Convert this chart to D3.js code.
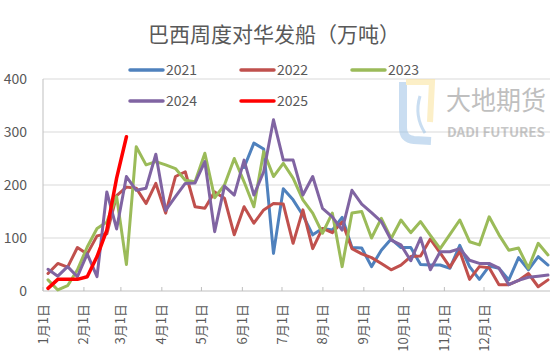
<!DOCTYPE html>
<html>
<head>
<meta charset="utf-8">
<script src="https://cdn.jsdelivr.net/npm/d3@7"></script>
<style>
  body { margin: 0; background: #fff; }
  svg { display: block; }
  text { font-family: "Noto Sans CJK SC", "Noto Sans", sans-serif; fill: #595959; }
</style>
</head>
<body>
<script>
// weekly shipments, 52 weeks per year (万吨)
const years = ["2021", "2022", "2023", "2024", "2025"];
const colors = ["#4F81BD", "#C0504D", "#9BBB59", "#8064A2", "#FF0000"];

const s2021 = [null, null, null, null, null, null, null, null, null, null,
  null, null, null, null, null, null, null, null, null, null,
  233, 279, 268, 71, 193, 172, 143, 106, 118, 115,
  139, 82, 81, 46, 77, 98, 82, 82, 50, 49,
  49, 43, 86, 46, 22, 47, 43, 21, 63, 40, 65, 49];
const s2022 = [33, 52, 45, 82, 70, 104, 108, 180, 196, 194,
  165, 203, 147, 216, 225, 159, 156, 187, 175, 106,
  159, 128, 153, 165, 164, 90, 153, 80, 118, 110,
  130, 80, 70, 63, 52, 40, 49, 65, 66, 98,
  72, 45, 75, 22, 46, 44, 12, 12, 20, 33, 8, 21];
const s2023 = [21, 2, 10, 40, 83, 118, 130, 178, 50, 272,
  238, 244, 238, 231, 209, 206, 260, 176, 200, 250,
  206, 159, 263, 216, 241, 213, 172, 147, 109, 147,
  46, 147, 150, 100, 137, 99, 134, 110, 131, 105,
  80, 107, 134, 93, 87, 140, 106, 77, 81, 43, 90, 68];
const s2024 = [41, 28, 46, 27, 70, 27, 187, 117, 216, 190,
  194, 258, 152, 178, 203, 204, 244, 112, 198, 181,
  247, 181, 225, 323, 247, 247, 181, 216, 156, 140,
  115, 190, 164, 148, 131, 96, 87, 57, 100, 40,
  74, 74, 80, 58, 52, 52, 43, 12, 20, 26, 28, 30];
const s2025 = [5, 22, 22, 22, 27, 65, 115, 213, 291];

const seriesList = [s2021, s2022, s2023, s2024, s2025];
const yTicks = [0, 100, 200, 300, 400];

const width = 550, height = 363;
const plotLeft = 43, plotBottom = 291, plotTop = 79;

const svg = d3.select("body").append("svg")
  .attr("width", width)
  .attr("height", height);

// scales
const xWeek = d3.scaleLinear().domain([0, 51]).range([48, 548]);
const xDate = d3.scaleTime()
  .domain([new Date(2021, 0, 1), new Date(2021, 11, 1)])
  .range([plotLeft, 484]);
const y = d3.scaleLinear().domain([0, 400]).range([plotBottom, plotTop]);

// title
svg.append("text")
  .attr("x", 274)
  .attr("y", 42)
  .attr("text-anchor", "middle")
  .style("font-size", "21px")
  .text("巴西周度对华发船（万吨）");

// gridlines
svg.append("g")
  .selectAll("line")
  .data(yTicks.slice(1))
  .enter()
  .append("line")
  .attr("x1", plotLeft)
  .attr("x2", width)
  .attr("y1", d => y(d))
  .attr("y2", d => y(d))
  .attr("stroke", "#d9d9d9")
  .attr("stroke-width", 1);

// y labels
svg.append("g")
  .selectAll("text")
  .data(yTicks)
  .enter()
  .append("text")
  .attr("x", 27)
  .attr("y", d => y(d))
  .attr("dy", "0.35em")
  .attr("text-anchor", "end")
  .style("font-size", "14px")
  .text(d => d);

// watermark
const wm = svg.append("g").attr("opacity", 0.55);
wm.append("path")
  .attr("d", "M403,82 L403,128 Q403,139 414,140 L431,141")
  .attr("fill", "none").attr("stroke", "#9dc3e6").attr("stroke-width", 8);
wm.append("path")
  .attr("d", "M420,96 Q414,116 425,133")
  .attr("fill", "none").attr("stroke", "#9dc3e6").attr("stroke-width", 3);
wm.append("path")
  .attr("d", "M406,82 L432,82 L430,122")
  .attr("fill", "none").attr("stroke", "#fbe29a").attr("stroke-width", 6);
wm.append("text")
  .attr("x", 446).attr("y", 110)
  .attr("textLength", 100)
  .attr("lengthAdjust", "spacingAndGlyphs")
  .style("font-size", "26px")
  .style("fill", "#8c8c8c")
  .text("大地期货");
wm.append("text")
  .attr("x", 447).attr("y", 137)
  .attr("textLength", 98)
  .attr("lengthAdjust", "spacingAndGlyphs")
  .style("font-size", "12.5px")
  .style("font-weight", "bold")
  .style("fill", "#9a9a9a")
  .text("DADI FUTURES");

// axes lines
svg.append("line")
  .attr("x1", plotLeft).attr("x2", width)
  .attr("y1", plotBottom).attr("y2", plotBottom)
  .attr("stroke", "#bfbfbf");
svg.append("line")
  .attr("x1", plotLeft).attr("x2", plotLeft)
  .attr("y1", plotTop).attr("y2", plotBottom)
  .attr("stroke", "#bfbfbf");

// month ticks and labels
const months = xDate.ticks(d3.timeMonth.every(1));
svg.append("g")
  .selectAll("line")
  .data(months)
  .enter()
  .append("line")
  .attr("x1", d => xDate(d))
  .attr("x2", d => xDate(d))
  .attr("y1", plotBottom - 4)
  .attr("y2", plotBottom)
  .attr("stroke", "#bfbfbf");

svg.append("g")
  .selectAll("text")
  .data(months)
  .enter()
  .append("text")
  .attr("transform", d => `translate(${xDate(d)},304) rotate(-90)`)
  .attr("dy", "0.35em")
  .attr("text-anchor", "end")
  .style("font-size", "13px")
  .text(d => (d.getMonth() + 1) + "月1日");

// series lines
const line = d3.line()
  .defined(d => d != null)
  .x((d, i) => xWeek(i))
  .y(d => y(d));

svg.append("g")
  .selectAll("path")
  .data(seriesList)
  .enter()
  .append("path")
  .attr("d", d => line(d))
  .attr("fill", "none")
  .attr("stroke", (d, i) => colors[i])
  .attr("stroke-width", (d, i) => i === 4 ? 3.5 : 3)
  .attr("stroke-linejoin", "round")
  .attr("stroke-linecap", "round");

// legend
const legendPos = [
  { x: 130, y: 70 }, { x: 241, y: 70 }, { x: 352, y: 70 },
  { x: 130, y: 101 }, { x: 241, y: 101 }
];
const legend = svg.append("g")
  .selectAll("g")
  .data(years)
  .enter()
  .append("g")
  .attr("transform", (d, i) => `translate(${legendPos[i].x},${legendPos[i].y})`);

legend.append("line")
  .attr("x1", 0).attr("x2", 33)
  .attr("stroke", (d, i) => colors[i])
  .attr("stroke-width", 3.5)
  .attr("stroke-linecap", "round");

legend.append("text")
  .attr("x", 36)
  .attr("dy", "0.35em")
  .style("font-size", "14px")
  .text(d => d);
</script>
</body>
</html>
